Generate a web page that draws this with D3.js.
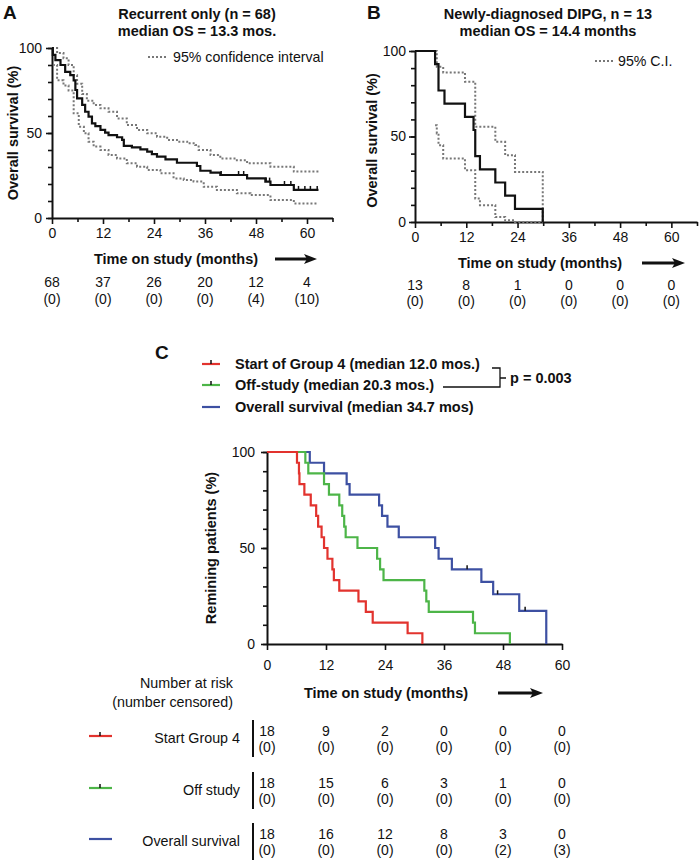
<!DOCTYPE html>
<html>
<head>
<meta charset="utf-8">
<script src="https://cdn.jsdelivr.net/npm/d3@7"></script>
<style>
  body { margin: 0; background: #fff; }
  svg text { font-family: "Liberation Sans", Arial, Helvetica, sans-serif; fill: #111; }
</style>
</head>
<body>
<div id="chart"></div>
<script>
// ---- data (months, % surviving) ----
const riskMonths = [0, 12, 24, 36, 48, 60];

// A: recurrent only
const aMonths = [0, 0.2, 0.8, 2.0, 3.1, 4.3, 5.1, 5.5, 5.9, 7.1, 7.8, 8.6, 9.4, 10.2, 11.4, 12.5, 13.3, 15.3, 16.5, 16.9, 18.8, 20.8, 22.4, 23.5, 24.7, 26.7, 29.4, 34.1, 34.9, 37.3, 39.6, 45.9, 50.2, 51.4, 56.9, 62.7];
const aSurv = [100, 96, 92.9, 90, 86, 84, 81, 75.3, 70.4, 66.5, 62.5, 59.6, 55.7, 54.1, 51.8, 50.2, 48.8, 47.5, 45.9, 42.4, 41.6, 40.4, 39, 37.6, 36.1, 34.5, 32.5, 30.6, 27.8, 26.7, 25.3, 23.3, 21.4, 19.4, 16.5, 16.5];
const aCensored = [39.8, 43.9, 45.1, 45.9, 50.4, 51.2, 54.7, 56.2, 58.0, 59.5, 60.8, 62.4];
const aUpMonths = [0, 1.2, 2.7, 3.9, 5.1, 5.9, 7.1, 8.2, 9.8, 11.4, 13.3, 15.3, 17.6, 20.0, 22.4, 24.7, 27.1, 29.4, 31.8, 33.7, 34.5, 37.3, 39.6, 43.5, 45.9, 51.4, 56.9, 62.7];
const aUpper = [100, 97, 94, 90, 84, 79, 73, 69, 66.5, 64.5, 62.5, 58.6, 54.7, 51.8, 49.8, 47.8, 45.9, 44.9, 43.9, 42.9, 40, 37, 35, 34, 32.2, 30.2, 27.3, 27.3];
const aLoMonths = [0.2, 1.2, 2.7, 3.9, 5.1, 6.3, 7.5, 8.6, 9.8, 11.4, 13.3, 15.3, 17.6, 20.0, 22.4, 25.5, 28.6, 31.0, 33.3, 35.7, 38.8, 43.5, 46.7, 51.4, 56.9, 62.7];
const aLower = [90, 81, 78, 75, 61.6, 53.7, 49.8, 44.9, 42, 40, 37, 35, 32.2, 30.2, 28.2, 26.3, 23.3, 22.4, 21.4, 18.4, 16.5, 14.5, 13.5, 10.6, 8.6, 8.6];
const aAtRisk = [68, 37, 26, 20, 12, 4];
const aNumCens = [0, 0, 0, 0, 4, 10];

// B: newly-diagnosed DIPG
const bMonths = [0, 4.7, 5.5, 6.9, 11.7, 13.7, 14.1, 15.2, 18.8, 21.1, 23.4, 29.9];
const bSurv = [100, 92.3, 76.9, 69.2, 61.5, 53.8, 38.5, 30.8, 23.1, 15.4, 7.7, 0];
const bUpMonths = [4.7, 5.1, 6.6, 11.7, 14.1, 18.8, 21.1, 23.4, 29.9];
const bUpper = [100, 90.8, 87.5, 82, 55.7, 46.9, 39.1, 29.3, 0];
const bLoMonths = [4.7, 5.1, 5.5, 6.6, 11.7, 14.1, 15.2, 18.8, 21.1, 23.4, 29.9];
const bLower = [56.6, 51.8, 44.9, 37.1, 30.3, 13.7, 9.8, 2.9, 1, 0, 0];
const bAtRisk = [13, 8, 1, 0, 0, 0];
const bNumCens = [0, 0, 0, 0, 0, 0];

// C: three groups
const cRedMonths = [0, 6.1, 6.5, 6.6, 7.6, 8.9, 10.0, 10.4, 11.1, 11.6, 12.3, 13.3, 13.6, 14.7, 18.6, 20.1, 21.5, 28.6, 31.6];
const cRed = [100, 94.4, 88.9, 83.3, 77.8, 72.2, 66.7, 61.1, 55.6, 50, 44.4, 38.9, 33.3, 27.8, 22.2, 16.7, 11.1, 5.6, 0];
const cGreenMonths = [0, 7.8, 8.4, 11.6, 12.6, 14.7, 15.3, 15.7, 16.0, 18.4, 22.4, 23.0, 23.7, 32.0, 32.4, 32.9, 41.9, 42.3, 49.4];
const cGreen = [100, 94.4, 88.9, 83.3, 77.8, 72.2, 66.7, 61.1, 55.6, 50, 44.4, 38.9, 33.3, 27.8, 22.2, 16.7, 11.1, 5.6, 0];
const cBlueMonths = [0, 8.7, 11.6, 16.2, 16.8, 22.8, 23.4, 24.5, 26.8, 34.2, 34.9, 37.6, 43.6, 46.0, 51.3, 56.8];
const cBlue = [100, 94.4, 88.9, 83.3, 77.8, 72.2, 66.7, 61.1, 55.6, 50, 44.4, 38.9, 32.4, 25.9, 17.3, 0];
const cBlueCensored = [40.7, 46.9, 52.5];

const cGroups = ['Start of Group 4 (median 12.0 mos.)', 'Off-study (median 20.3 mos.)', 'Overall survival (median 34.7 mos)'];
const cRowLabels = ['Start Group 4', 'Off study', 'Overall survival'];
const cAtRisk = [[18, 9, 2, 0, 0, 0], [18, 15, 6, 3, 1, 0], [18, 16, 12, 8, 3, 0]];
const cNumCens = [[0, 0, 0, 0, 0, 0], [0, 0, 0, 0, 0, 0], [0, 0, 0, 0, 2, 3]];
const cColors = ['#e2332e', '#4db548', '#3d50a2'];

const svg = d3.select('#chart').append('svg')
    .attr('width', 700)
    .attr('height', 863);

const zip = (a, b) => a.map((v, i) => [v, b[i]]);

function styleAxis(g, labelled) {
    g.select('.domain').attr('stroke', '#111').attr('stroke-width', 2);
    g.selectAll('.tick line').attr('stroke', '#111').attr('stroke-width', 1.6);
    if (labelled) g.selectAll('.tick text')
        .attr('font-size', 14)
        .attr('font-family', '"Liberation Sans", Arial, sans-serif')
        .attr('fill', '#111');
    else g.select('.domain').remove();
}

// sets up scales and axes for one panel
function panel(p) {
    const x = d3.scaleLinear().domain([0, p.xMax]).range([p.left, p.right]);
    const y = d3.scaleLinear().domain([0, 100]).range([p.bottom, p.top]);

    svg.append('g').attr('transform', `translate(0,${p.bottom})`)
        .call(d3.axisBottom(x).tickValues(p.xMinor).tickSize(4).tickFormat('').tickSizeOuter(0))
        .call(g => styleAxis(g, false));
    svg.append('g').attr('transform', `translate(${p.left},0)`)
        .call(d3.axisLeft(y).tickValues(d3.range(0, 101, 10)).tickSize(4).tickFormat('').tickSizeOuter(0))
        .call(g => styleAxis(g, false));
    svg.append('g').attr('transform', `translate(0,${p.bottom})`)
        .call(d3.axisBottom(x).tickValues(riskMonths).tickSize(6).tickPadding(p.xPad).tickSizeOuter(0))
        .call(g => styleAxis(g, true));
    svg.append('g').attr('transform', `translate(${p.left},0)`)
        .call(d3.axisLeft(y).tickValues([0, 50, 100]).tickSize(6).tickPadding(p.yPad).tickSizeOuter(0))
        .call(g => styleAxis(g, true));

    // axis titles
    svg.append('text')
        .attr('transform', `translate(${p.yLabelX},${(p.top + p.bottom) / 2 + p.yLabelDy}) rotate(-90)`)
        .attr('text-anchor', 'middle')
        .attr('font-size', 14.5).attr('font-weight', 'bold')
        .text(p.yLabel);
    svg.append('text')
        .attr('x', p.xLabelX).attr('y', p.xLabelY)
        .attr('text-anchor', 'middle')
        .attr('font-size', 14.5).attr('font-weight', 'bold')
        .text('Time on study (months)');
    arrow(p.arrow[0], p.arrow[1], p.xLabelY - 5);
    return { x, y };
}

function arrow(x1, x2, yy) {
    svg.append('line')
        .attr('x1', x1).attr('x2', x2 - 10).attr('y1', yy).attr('y2', yy)
        .attr('stroke', '#111').attr('stroke-width', 3);
    svg.append('path')
        .attr('d', `M${x2},${yy} L${x2 - 13},${yy - 5} L${x2 - 10},${yy} L${x2 - 13},${yy + 5} Z`)
        .attr('fill', '#111');
}

function stepLine(x, y, pts, color, dotted) {
    const line = d3.line().x(d => x(d[0])).y(d => y(d[1])).curve(d3.curveStepAfter);
    svg.append('path')
        .attr('d', line(pts))
        .attr('fill', 'none')
        .attr('stroke', color)
        .attr('stroke-width', dotted ? 2 : 2.2)
        .attr('stroke-dasharray', dotted ? '2,2' : null);
}

function censorTicks(x, y, months, surv, times, color) {
    svg.selectAll(null)
        .data(times)
        .join('line')
        .attr('x1', d => x(d)).attr('x2', d => x(d))
        .attr('y1', d => y(surv[d3.bisectRight(months, d) - 1]))
        .attr('y2', d => y(surv[d3.bisectRight(months, d) - 1]) - 4)
        .attr('stroke', color).attr('stroke-width', 1.5);
}

function riskRow(x, counts, cens, y1, y2) {
    const g = svg.append('g').attr('font-size', 14).attr('text-anchor', 'middle');
    g.selectAll(null).data(counts).join('text')
        .attr('x', (d, i) => x(riskMonths[i])).attr('y', y1).text(d => d);
    g.selectAll(null).data(cens).join('text')
        .attr('x', (d, i) => x(riskMonths[i])).attr('y', y2).text(d => `(${d})`);
}

function title(txt, x, y, size, anchor) {
    svg.append('text').attr('x', x).attr('y', y)
        .attr('text-anchor', anchor || 'middle')
        .attr('font-size', size).attr('font-weight', 'bold')
        .text(txt);
}

function dottedKey(x1, x2, yy, label) {
    svg.append('line').attr('x1', x1).attr('x2', x2).attr('y1', yy).attr('y2', yy)
        .attr('stroke', '#777').attr('stroke-width', 2).attr('stroke-dasharray', '2,2');
    svg.append('text').attr('x', x2 + 5).attr('y', yy + 5).attr('font-size', 14.2).text(label);
}

// ---------------- Panel A ----------------
title('A', 3, 19, 19, 'start');
title('Recurrent only (n = 68)', 197, 19, 14.5);
title('median OS = 13.3 mos.', 197, 36, 14.5);

const A = panel({
    xMax: 66, left: 52, right: 332.5, top: 48, bottom: 218,
    xMinor: d3.range(6, 67, 12), xPad: 4, yPad: 4,
    yLabel: 'Overall survival (%)', yLabelX: 18, yLabelDy: 0,
    xLabelX: 176, xLabelY: 264, arrow: [275, 317]
});
dottedKey(148, 168, 57, '95% confidence interval');
stepLine(A.x, A.y, zip(aUpMonths, aUpper), '#777', true);
stepLine(A.x, A.y, zip(aLoMonths, aLower), '#777', true);
stepLine(A.x, A.y, zip(aMonths, aSurv), '#111', false);
censorTicks(A.x, A.y, aMonths, aSurv, aCensored, '#111');
riskRow(A.x, aAtRisk, aNumCens, 287, 304);

// ---------------- Panel B ----------------
title('B', 367, 19, 19, 'start');
title('Newly-diagnosed DIPG, n = 13', 548, 19, 14.5);
title('median OS = 14.4 months', 548, 36, 14.5);

const B = panel({
    xMax: 66, left: 415, right: 697, top: 51, bottom: 222,
    xMinor: d3.range(6, 67, 12), xPad: 4, yPad: 3,
    yLabel: 'Overall survival (%)', yLabelX: 377, yLabelDy: 4,
    xLabelX: 540, xLabelY: 268, arrow: [642, 685]
});
dottedKey(595, 613, 61, '95% C.I.');
stepLine(B.x, B.y, zip(bUpMonths, bUpper), '#777', true);
stepLine(B.x, B.y, zip(bLoMonths, bLower), '#777', true);
stepLine(B.x, B.y, zip(bMonths, bSurv), '#111', false);
riskRow(B.x, bAtRisk, bNumCens, 290, 306);

// ---------------- Panel C ----------------
title('C', 155, 359, 19, 'start');

const C = panel({
    xMax: 60, left: 267, right: 562, top: 452, bottom: 644,
    xMinor: [], xPad: 10, yPad: 6,
    yLabel: 'Remining patients (%)', yLabelX: 216, yLabelDy: 0,
    xLabelX: 386, xLabelY: 698, arrow: [498, 543]
});

// legend
const legendY = [364, 385, 407];
cGroups.forEach((name, i) => {
    svg.append('line').attr('x1', 202).attr('x2', 220).attr('y1', legendY[i]).attr('y2', legendY[i])
        .attr('stroke', cColors[i]).attr('stroke-width', 2.2);
    if (i < 2) svg.append('line').attr('x1', 211).attr('x2', 211).attr('y1', legendY[i]).attr('y2', legendY[i] - 4)
        .attr('stroke', '#111').attr('stroke-width', 1.5);
    title(name, 235, legendY[i] + 5, 14.5, 'start');
});
// p-value bracket between first two groups
svg.append('path')
    .attr('d', 'M492,368 H500 V387 H443 M500,378 H506')
    .attr('fill', 'none').attr('stroke', '#111').attr('stroke-width', 1.3);
title('p = 0.003', 510, 383, 14.5, 'start');

stepLine(C.x, C.y, zip(cBlueMonths, cBlue), cColors[2], false);
stepLine(C.x, C.y, zip(cGreenMonths, cGreen), cColors[1], false);
stepLine(C.x, C.y, zip(cRedMonths, cRed), cColors[0], false);
censorTicks(C.x, C.y, cBlueMonths, cBlue, cBlueCensored, '#111');

// number at risk table
svg.append('text').attr('x', 233).attr('y', 688).attr('text-anchor', 'end').attr('font-size', 14.3).text('Number at risk');
svg.append('text').attr('x', 233).attr('y', 707).attr('text-anchor', 'end').attr('font-size', 14.3).text('(number censored)');

const rowTop = [720, 772, 823];
cRowLabels.forEach((lab, i) => {
    const mid = rowTop[i] + 18;
    svg.append('line').attr('x1', 89).attr('x2', 112).attr('y1', mid - 2).attr('y2', mid - 2)
        .attr('stroke', cColors[i]).attr('stroke-width', 2.2);
    if (i < 2) svg.append('line').attr('x1', 100).attr('x2', 100).attr('y1', mid - 2).attr('y2', mid - 6)
        .attr('stroke', '#111').attr('stroke-width', 1.5);
    svg.append('text').attr('x', 240).attr('y', mid + 5).attr('text-anchor', 'end').attr('font-size', 14.3).text(lab);
    svg.append('line').attr('x1', 253).attr('x2', 253).attr('y1', rowTop[i]).attr('y2', rowTop[i] + 37)
        .attr('stroke', '#111').attr('stroke-width', 2);
    riskRow(C.x, cAtRisk[i], cNumCens[i], rowTop[i] + 16, rowTop[i] + 32);
});
</script>
</body>
</html>
